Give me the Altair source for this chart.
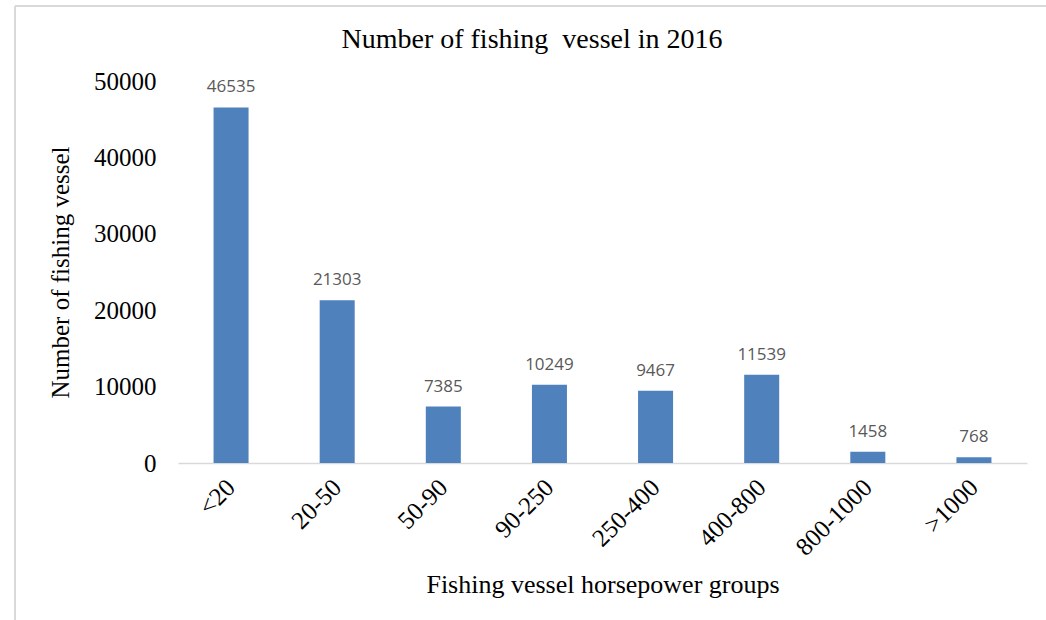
import altair as alt
import pandas as pd

groups = ["<20", "20-50", "50-90", "90-250", "250-400", "400-800", "800-1000", ">1000"]
vessels = [46535, 21303, 7385, 10249, 9467, 11539, 1458, 768]
y_ticks = list(range(0, 50001, 5000))
chart_title = "Number of fishing\u00a0 vessel in 2016"

df = pd.DataFrame({"group": groups, "vessels": vessels})

SERIF = "Liberation Serif"
W, H = 849, 382

base = alt.Chart(df)

x_enc = alt.X(
    "group:N",
    sort=groups,
    scale=alt.Scale(paddingInner=0.67, paddingOuter=0.335),
    axis=alt.Axis(
        title="Fishing vessel horsepower groups",
        titleFont=SERIF, titleFontSize=26, titleFontWeight="normal", titleColor="#000000",
        titlePadding=12,
        labelFont=SERIF, labelFontSize=25, labelColor="#000000",
        labelAngle=-45, labelAlign="right", labelBaseline="middle", labelPadding=20,
        ticks=False, domainColor="#d9d9d9", domainWidth=1.5,
    ),
)
y_enc = alt.Y(
    "vessels:Q",
    scale=alt.Scale(domain=[0, 50000], nice=False),
    axis=alt.Axis(
        title="Number of fishing vessel",
        titleFont=SERIF, titleFontSize=25, titleFontWeight="normal", titleColor="#000000",
        titlePadding=20,
        labelFont=SERIF, labelFontSize=25, labelColor="#000000", labelPadding=22,
        format="d",
        values=y_ticks, ticks=False, domain=False, grid=False,
    ),
)

bars = base.mark_bar(color="#4f81bd").encode(x=x_enc, y=y_enc)
labels = base.mark_text(
    font="Open Sans", fontSize=17, color="#595959", baseline="bottom", dy=-11
).encode(x=alt.X("group:N", sort=groups), y="vessels:Q", text="vessels:Q")

title_mark = alt.Chart(pd.DataFrame({"t": [chart_title]})).mark_text(
    font=SERIF, fontSize=28, color="#000000", align="center", baseline="alphabetic"
).encode(x=alt.value(354), y=alt.value(-33), text="t:N")

border_top = base.mark_rule(color="#d9d9d9", strokeWidth=2).encode(
    x=alt.value(-163), x2=alt.value(900), y=alt.value(-75)
)
border_left = base.mark_rule(color="#d9d9d9", strokeWidth=2).encode(
    x=alt.value(-163), y=alt.value(-75), y2=alt.value(600)
)

chart = (
    alt.layer(bars, labels, title_mark, border_top, border_left)
    .properties(
        width=W, height=H,
        autosize=alt.AutoSizeParams(type="none"),
        padding={"left": 178, "top": 81, "right": 19, "bottom": 157},
    )
    .configure(background="white")
    .configure_view(strokeWidth=0, stroke="transparent")
)

chart.save("out.html", embed_options={"renderer": "svg", "actions": False})
